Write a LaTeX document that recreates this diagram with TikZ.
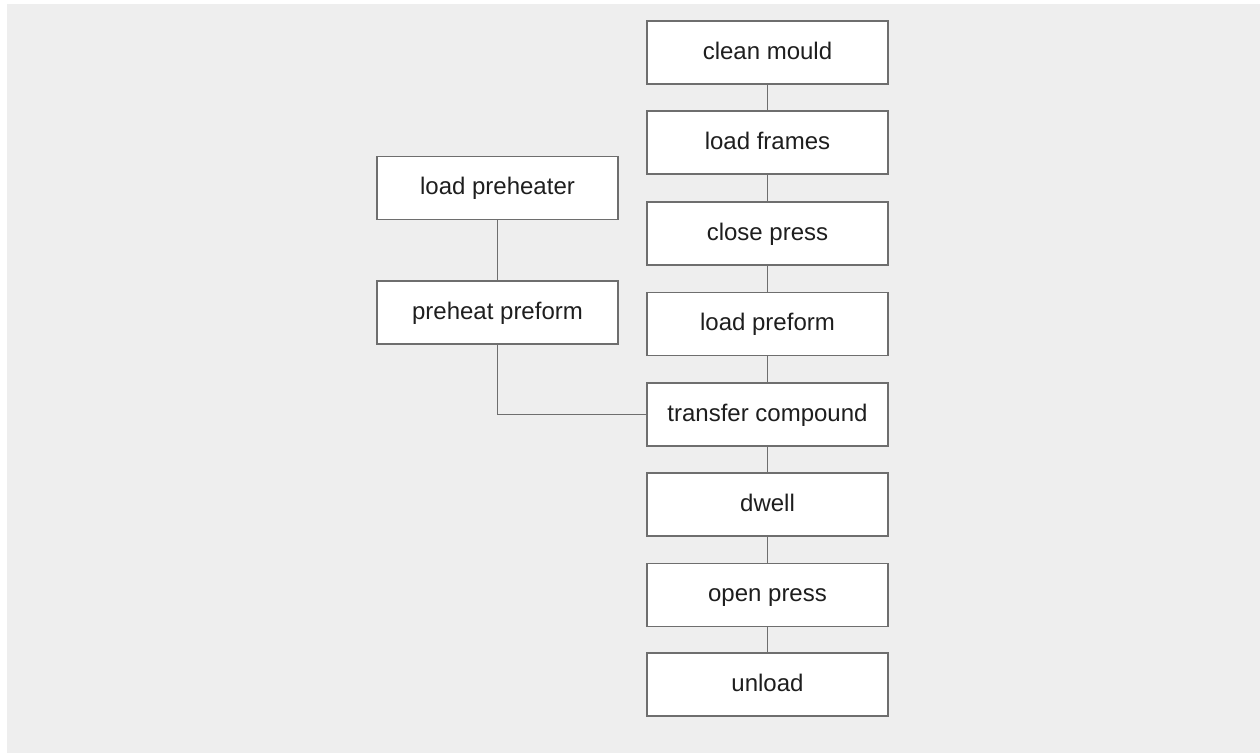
\documentclass[tikz,border=0pt]{standalone}
\usepackage{fontspec}
\setmainfont{Liberation Sans}
\definecolor{paper}{RGB}{238,238,238}
\definecolor{boxline}{RGB}{110,110,110}
\definecolor{boxtext}{RGB}{30,30,30}
\tikzset{
  stepbox/.style={draw=boxline, fill=white, line width=0.8pt, minimum width=180.75pt, minimum height=47.25pt, inner sep=0pt, text=boxtext, text height=13pt, text depth=3pt, font=\fontsize{18}{21}\selectfont},
  link/.style={draw=boxline, line width=0.8pt}
}
\begin{document}
\begin{tikzpicture}[x=0.75pt,y=0.75pt,yscale=-1,xscale=1]
\useasboundingbox (0,0) rectangle (1260,753);
%background
\fill [paper] (7,4) rectangle (1260,753);

%main line of the press
\node [stepbox] (clean) at (767.5,52.5) {clean mould};
\node [stepbox] (frames) at (767.5,142.5) {load frames};
\node [stepbox] (close) at (767.5,233.5) {close press};
\node [stepbox] (loadpre) at (767.5,324) {load preform};
\node [stepbox] (transfer) at (767.5,414.5) {transfer compound};
\node [stepbox] (dwell) at (767.5,504.5) {dwell};
\node [stepbox] (open) at (767.5,595) {open press};
\node [stepbox] (unload) at (767.5,684.5) {unload};

%preheater branch
\node [stepbox] (heater) at (497.5,188) {load preheater};
\node [stepbox] (preheat) at (497.5,312.5) {preheat preform};

\draw [link] (clean) -- (frames);
\draw [link] (frames) -- (close);
\draw [link] (close) -- (loadpre);
\draw [link] (loadpre) -- (transfer);
\draw [link] (transfer) -- (dwell);
\draw [link] (dwell) -- (open);
\draw [link] (open) -- (unload);

\draw [link] (heater) -- (preheat);
\draw [link] (preheat.south) |- (transfer.west);

\end{tikzpicture}
\end{document}
